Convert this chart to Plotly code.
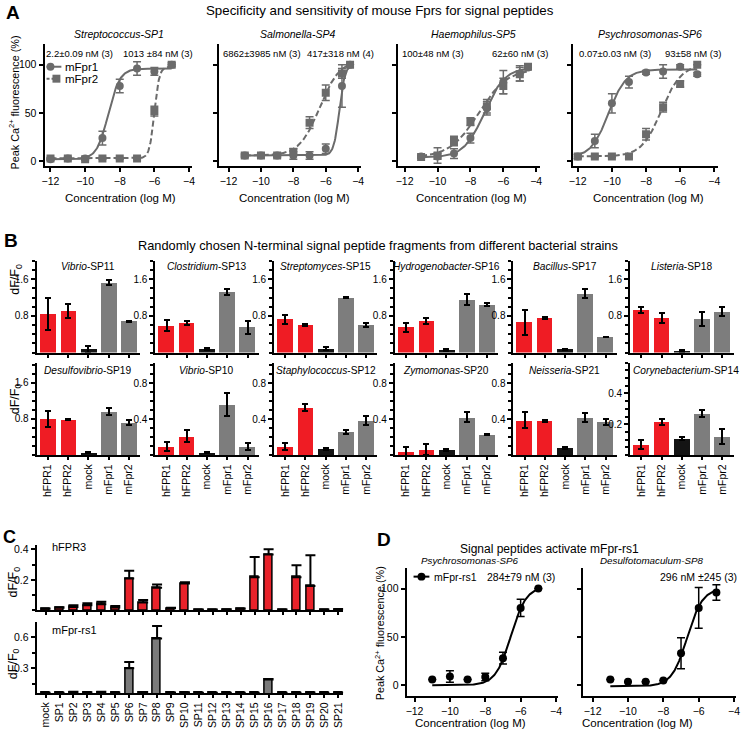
import numpy as np
import plotly.graph_objects as go

W, H = 745, 731
FONT = "Liberation Sans, Arial, sans-serif"
TFONT = "Liberation Sans, Arial, sans-serif"
GRAY_A = "#6b6b6b"
RED = "#ef1c24"
GRAY_B = "#7d7d7d"
MOCK = "#141414"

# ---------------- Panel A data ----------------
A_titles = ["Streptococcus-SP1", "Salmonella-SP4", "Haemophilus-SP5", "Psychrosomonas-SP6"]
A_text_fpr1 = ["2.2±0.09 nM (3)", "6862±3985 nM (3)", "100±48 nM (3)", "0.07±0.03 nM (3)"]
A_text_fpr2 = ["1013 ±84 nM (3)", "417±318 nM (4)", "62±60 nM (3)", "93±58 nM (3)"]
A_conc = [
    [-12, -11, -10, -9, -8, -7, -6, -5],
    [-11, -10, -9, -8, -7, -6, -5, -4.5],
    [-11, -10, -9, -8, -7, -6, -5, -4.5],
    [-12, -11, -10, -9, -8, -7, -6, -5],
]
A_mfpr1 = [
    [2, 3, 3, 24, 78, 96, 93, 100],
    [6, 6, 6, 6, 6, 13, 78, 100],
    [5, 5, 8, 24, 55, 82, 91, 97],
    [5, 21, 60, 82, 92, 93, 98, 90],
]
A_mfpr1_err = [
    [1, 1, 1, 7, 7, 7, 4, 0],
    [1, 1, 1, 4, 4, 5, 22, 0],
    [1, 3, 5, 5, 7, 12, 8, 0],
    [2, 7, 10, 6, 2, 7, 2, 2],
]
A_mfpr2 = [
    [3, 3, 2, 3, 3, 3, 52, 100],
    [6, 6, 6, 10, 40, 71, 91, 100],
    [4.5, 6, 21, 41, 57, 78, 90, 98],
    [5, 5, 5, 5, 28, 56, 80, 100],
]
A_mfpr2_err = [
    [1, 1, 1, 1, 1, 1, 5, 2],
    [2, 2, 2, 3, 6, 8, 5, 0],
    [1, 8, 5, 4, 7, 8, 7, 0],
    [2, 1, 1, 2, 6, 5, 3, 0],
]
# fitted curves: (bottom, top, logEC50, hill)
A_fit_mfpr1 = [(2, 96, -8.66, 1.3), (6, 100, -5.16, 2.5), (4, 97, -7.15, 0.7), (4, 95, -10.2, 0.85)]
A_fit_mfpr2 = [(3, 98, -6.0, 3.0), (6, 105, -6.38, 0.7), (4, 96, -7.5, 0.5), (5, 100, -7.1, 0.75)]

# ---------------- Panel B data ----------------
B_genus = ["Vibrio", "Clostridium", "Streptomyces", "Hydrogenobacter", "Bacillus", "Listeria",
           "Desulfovibrio", "Vibrio", "Staphylococcus", "Zymomonas", "Neisseria", "Corynebacterium"]
B_peptide = ["SP11", "SP13", "SP15", "SP16", "SP17", "SP18",
             "SP19", "SP10", "SP12", "SP20", "SP21", "SP14"]
B_receptors = ["hFPR1", "hFPR2", "mock", "mFpr1", "mFpr2"]
B_values = [
    [0.85, 0.91, 0.07, 1.53, 0.68],
    [0.58, 0.64, 0.07, 1.32, 0.55],
    [0.73, 0.60, 0.09, 1.20, 0.60],
    [0.55, 0.69, 0.06, 1.15, 1.05],
    [0.66, 0.75, 0.07, 1.29, 0.34],
    [0.93, 0.75, 0.04, 0.73, 0.89],
    [0.80, 0.79, 0.05, 0.96, 0.72],
    [0.10, 0.21, 0.03, 0.56, 0.10],
    [0.10, 0.53, 0.07, 0.26, 0.38],
    [0.04, 0.06, 0.06, 0.42, 0.23],
    [0.39, 0.38, 0.08, 0.42, 0.37],
    [0.07, 0.215, 0.11, 0.27, 0.12],
]
B_errors = [
    [0.35, 0.16, 0.08, 0.05, 0.01],
    [0.12, 0.04, 0.02, 0.06, 0.14],
    [0.10, 0.03, 0.03, 0.01, 0.05],
    [0.10, 0.07, 0.02, 0.12, 0.04],
    [0.27, 0.02, 0.01, 0.10, 0.01],
    [0.06, 0.11, 0.02, 0.15, 0.10],
    [0.18, 0.02, 0.01, 0.08, 0.05],
    [0.05, 0.065, 0.01, 0.13, 0.04],
    [0.04, 0.04, 0.01, 0.02, 0.05],
    [0.05, 0.06, 0.01, 0.055, 0.01],
    [0.09, 0.01, 0.01, 0.05, 0.03],
    [0.03, 0.02, 0.01, 0.02, 0.05],
]
B_ymax = [2.0] * 6 + [2.05, 1.03, 1.03, 1.03, 1.03, 0.6]
B_tickstep = [0.8] * 7 + [0.4] * 4 + [0.2]
B_colors = [RED, RED, MOCK, GRAY_B, GRAY_B]

# ---------------- Panel C data ----------------
C_peptides = ["mock"] + ["SP%d" % i for i in range(1, 22)]
C_hfpr3 = [0.011, 0.018, 0.023, 0.034, 0.041, 0.020, 0.210, 0.052, 0.148, 0.014, 0.177,
           0.005, 0.006, 0.007, 0.011, 0.218, 0.367, 0.005, 0.218, 0.160, 0.005, 0.008]
C_hfpr3_err = [0.002, 0.004, 0.011, 0.014, 0.016, 0.010, 0.050, 0.016, 0.022, 0.004, 0.007,
               0.001, 0.001, 0.001, 0.002, 0.132, 0.033, 0.001, 0.078, 0.202, 0.001, 0.001]
C_rs1 = [0.062, 0.062, 0.068, 0.064, 0.068, 0.063, 0.300, 0.066, 0.590, 0.063, 0.064,
         0.061, 0.061, 0.062, 0.061, 0.061, 0.190, 0.061, 0.061, 0.063, 0.061, 0.061]
C_rs1_err = [0.001, 0.001, 0.004, 0.002, 0.004, 0.001, 0.060, 0.004, 0.120, 0.001, 0.002,
             0.0, 0.0, 0.0, 0.0, 0.0, 0.005, 0.0, 0.0, 0.002, 0.0, 0.0]

# ---------------- Panel D data ----------------
D_titles = ["Psychrosomonas-SP6", "Desulfotomaculum-SP8"]
D_text = ["284±79 nM (3)", "296 nM ±245 (3)"]
D_conc = [-11, -10, -9, -8, -7, -6, -5]
D_rs1 = [[6, 9, 6, 8.5, 28, 80, 100], [6, 3.5, 3.5, 5, 33, 80, 96]]
D_rs1_err = [[0, 6, 0, 4, 6, 9, 0], [0, 0, 0, 0, 16, 21, 8]]
D_fit = [(0, 102, -6.55, 1.0), (-1, 100, -6.65, 1.0)]


def hill(x, b, t, ec, h):
    return b + (t - b) / (1 + 10 ** ((ec - x) * h))


fig = go.Figure()
layout = {}
annotations = []
shapes = []
naxes = [0]
TICK = 10.5


def base_axis():
    return dict(showline=True, linecolor="black", linewidth=2, ticks="outside", ticklen=4,
                tickwidth=1.5, tickcolor="black", showgrid=False, zeroline=False,
                tickfont=dict(family=FONT, size=TICK, color="black"), fixedrange=True)


def add_axes(x0, x1, y0, y1, xr, yr, xkw=None, ykw=None):
    naxes[0] += 1
    n = naxes[0]
    sfx = "" if n == 1 else str(n)
    xa = base_axis()
    xa.update(domain=[x0 / W, x1 / W], range=xr, anchor="y" + sfx)
    ya = base_axis()
    ya.update(domain=[1 - y1 / H, 1 - y0 / H], range=yr, anchor="x" + sfx)
    if xkw:
        xa.update(xkw)
    if ykw:
        ya.update(ykw)
    layout["xaxis" + sfx] = xa
    layout["yaxis" + sfx] = ya
    return "x" + sfx, "y" + sfx


def txt(px, py, s, size=12, family=FONT, xanchor="center", angle=0):
    annotations.append(dict(x=px / W, y=1 - py / H, xref="paper", yref="paper", text=s,
                            showarrow=False, xanchor=xanchor, yanchor="middle", textangle=angle,
                            font=dict(family=family, size=size, color="black")))


def px2p(x, y):
    return x / W, 1 - y / H


# ---------------- Panel A ----------------
A_geom = [  # y-axis x, px of -12, px of -4
    (41, 47, 187), (217, 227, 358), (398, 405, 538), (575, 580, 718)
]
A_title_x = [116, 297, 475, 653]
A_t1_x = [76, 261, 434, 618]
A_t2_x = [156, 340, 522, 696]
A_xt_x = [118, 294, 473, 652]
for i in range(4):
    left, p12, p4 = A_geom[i]
    ppu = (p4 - p12) / 8.0
    xr = [-12 - (p12 - left) / ppu, -3.8]
    right = p4 + 0.2 * ppu
    xr_, yr_ = add_axes(left, right, 42, 165, xr, [-5.2, 121.6],
                        xkw=dict(tickvals=[-12, -10, -8, -6, -4]),
                        ykw=dict(tickvals=[0, 50, 100], showticklabels=(i == 0)))
    xc1 = np.linspace(A_conc[i][0], A_conc[i][-1], 200)
    fig.add_trace(go.Scatter(x=xc1, y=hill(xc1, *A_fit_mfpr1[i]), mode="lines",
                             line=dict(color=GRAY_A, width=2), xaxis=xr_, yaxis=yr_,
                             showlegend=False, hoverinfo="skip"))
    fig.add_trace(go.Scatter(x=xc1, y=hill(xc1, *A_fit_mfpr2[i]), mode="lines",
                             line=dict(color=GRAY_A, width=2, dash="6px,3px"), xaxis=xr_, yaxis=yr_,
                             showlegend=False, hoverinfo="skip"))
    fig.add_trace(go.Scatter(x=A_conc[i], y=A_mfpr2[i], mode="markers",
                             marker=dict(symbol="square", size=8, color=GRAY_A),
                             error_y=dict(type="data", array=A_mfpr2_err[i], color=GRAY_A,
                                          thickness=1.5, width=4),
                             xaxis=xr_, yaxis=yr_, showlegend=False))
    fig.add_trace(go.Scatter(x=A_conc[i], y=A_mfpr1[i], mode="markers",
                             marker=dict(symbol="circle", size=8, color=GRAY_A),
                             error_y=dict(type="data", array=A_mfpr1_err[i], color=GRAY_A,
                                          thickness=1.5, width=4),
                             xaxis=xr_, yaxis=yr_, showlegend=False))
    txt(A_title_x[i], 32, "<i>" + A_titles[i] + "</i>", size=10.5)
    txt(A_t1_x[i], 52, A_text_fpr1[i], size=9.5)
    txt(A_t2_x[i], 52, A_text_fpr2[i], size=9.5)
    txt(A_xt_x[i], 197, "Concentration (log M)", size=11.5)

txt(10, 101, "Peak Ca<sup>2+</sup> fluorescence (%)", size=10.8, angle=-90)
txt(380, 9, "Specificity and sensitivity of mouse Fprs for signal peptides", size=13.3, family=TFONT)
txt(9, 11, "<b>A</b>", size=19, family=TFONT)

for (ly, sym, dash, name) in [(65, "circle", "solid", "mFpr1"), (77, "square", "dash", "mFpr2")]:
    a = px2p(43, ly)
    b = px2p(58, ly)
    shapes.append(dict(type="line", xref="paper", yref="paper", x0=a[0], y0=a[1], x1=b[0], y1=b[1],
                       line=dict(color=GRAY_A, width=2, dash="3px,2px" if dash == "dash" else "solid")))
    cx = 47 if sym == "circle" else 53
    c0 = px2p(cx - 4, ly + 4)
    c1 = px2p(cx + 4, ly - 4)
    shapes.append(dict(type="circle" if sym == "circle" else "rect", xref="paper", yref="paper",
                       x0=c0[0], y0=c0[1], x1=c1[0], y1=c1[1], fillcolor=GRAY_A,
                       line=dict(color=GRAY_A, width=0)))
    txt(60, ly, name, size=11.5, xanchor="left")

# ---------------- Panel B ----------------
B_left = [33, 153, 273, 395, 515, 633]
for k in range(12):
    row = k // 6
    col = k % 6
    left = B_left[col]
    top, bot = (260, 352) if row == 0 else (362, 455)
    step = B_tickstep[k]
    ticks = [step * j for j in range(1, 3) if step * j <= B_ymax[k] + 1e-9]
    xr_, yr_ = add_axes(left, left + 104.5, top, bot, [-0.55, 4.55], [0, B_ymax[k]],
                        xkw=dict(type="category", ticklen=3, tickangle=-90,
                                 tickmode="array", tickvals=B_receptors, ticktext=B_receptors,
                                 tickfont=dict(family=FONT, size=10.5, color="black"),
                                 showticklabels=(row == 1)),
                        ykw=dict(tickvals=ticks, ticktext=["%g" % t for t in ticks],
                                 tickfont=dict(family=FONT, size=10, color="black"),
                                 minor=dict(tick0=0, dtick=step / 4, ticks="outside", ticklen=3,
                                            tickwidth=1.5, tickcolor="black")))
    fig.add_trace(go.Bar(x=B_receptors, y=B_values[k], width=0.78,
                         marker=dict(color=B_colors, line=dict(width=0)),
                         error_y=dict(type="data", array=B_errors[k], color="black",
                                      thickness=2, width=3),
                         xaxis=xr_, yaxis=yr_, showlegend=False))
    ty = 266 if row == 0 else 370
    cx = left + 52 if k != 11 else 689
    txt(cx, ty, "<i>" + B_genus[k] + "</i>-" + B_peptide[k], size=10.2)

txt(12, 278, "dF/F<sub>0</sub>", size=12.5, angle=-90)
txt(12, 398, "dF/F<sub>0</sub>", size=12.5, angle=-90)
txt(378, 245, "Randomly chosen N-terminal signal peptide fragments from different bacterial strains",
    size=12.8, family=TFONT)
txt(7, 239, "<b>B</b>", size=19, family=TFONT)

# ---------------- Panel C ----------------
nC = len(C_peptides)
for (vals, errs, color, top, bot, yr, tv, mstep, label, ly, ty) in [
        (C_hfpr3, C_hfpr3_err, "#e8222a", 545, 611, [0, 0.43], [0.2, 0.4], 0.1, "hFPR3", 547, 582),
        (C_rs1, C_rs1_err, "#7a7a7a", 623, 694, [0.058, 0.745], [0.3, 0.6], 0.15, "mFpr-rs1", 631, 664)]:
    xr_, yr_ = add_axes(33, 343, top, bot, [-0.64, nC - 0.64], yr,
                        xkw=dict(type="category", ticklen=3, tickangle=-90,
                                 tickmode="array", tickvals=C_peptides, ticktext=C_peptides,
                                 showticklabels=(label != "hFPR3"),
                                 tickfont=dict(family=FONT, size=10.5, color="black")),
                        ykw=dict(tickvals=tv, ticktext=["%g" % t for t in tv],
                                 minor=dict(tick0=0, dtick=mstep, ticks="outside", ticklen=3,
                                            tickwidth=1.5, tickcolor="black")))
    fig.add_trace(go.Bar(x=C_peptides, y=vals, width=0.58,
                         marker=dict(color=color, line=dict(color="black", width=1.5)),
                         error_y=dict(type="data", symmetric=False, array=errs,
                                      arrayminus=[0] * nC, color="black", thickness=2, width=5),
                         xaxis=xr_, yaxis=yr_, showlegend=False))
    txt(46, ly, label, size=11, xanchor="left")
    txt(10, ty, "dF/F<sub>0</sub>", size=12.5, angle=-90)
txt(6, 537, "<b>C</b>", size=18, family=TFONT)

# ---------------- Panel D ----------------
D_geom = [(407, 415, 558), (585, 595, 738)]
D_title_x = [471, 655]
D_xt_x = [472, 640]
for i in range(2):
    left, p12, p4 = D_geom[i]
    ppu = (p4 - p12) / 8.0
    xr = [-12 - (p12 - left) / ppu, -3.9]
    right = p4 + 0.1 * ppu
    xr_, yr_ = add_axes(left, right, 568, 697, xr, [-11.3, 121.6],
                        xkw=dict(tickvals=[-12, -10, -8, -6, -4]),
                        ykw=dict(tickvals=[0, 50, 100], showticklabels=(i == 0)))
    xc = np.linspace(D_conc[0], D_conc[-1], 200)
    fig.add_trace(go.Scatter(x=xc, y=hill(xc, *D_fit[i]), mode="lines",
                             line=dict(color="black", width=2), xaxis=xr_, yaxis=yr_,
                             showlegend=False, hoverinfo="skip"))
    fig.add_trace(go.Scatter(x=D_conc, y=D_rs1[i], mode="markers",
                             marker=dict(symbol="circle", size=8, color="black"),
                             error_y=dict(type="data", array=D_rs1_err[i], color="black",
                                          thickness=1.5, width=4),
                             xaxis=xr_, yaxis=yr_, showlegend=False))
    txt(D_title_x[i], 561, "<i>" + D_titles[i] + "</i>", size=9.8)
    txt(D_xt_x[i], 724, "Concentration (log M)", size=11.5)

txt(523, 577, D_text[0], size=10.5)
txt(743, 577, D_text[1], size=10.5, xanchor="right")
txt(551, 549, "Signal peptides activate mFpr-rs1", size=12, family=TFONT)
txt(380, 634, "Peak Ca<sup>2+</sup> fluorescence (%)", size=10.8, angle=-90)
txt(384, 540, "<b>D</b>", size=19, family=TFONT)
a = px2p(414, 577)
b = px2p(430, 577)
shapes.append(dict(type="line", xref="paper", yref="paper", x0=a[0], y0=a[1], x1=b[0], y1=b[1],
                   line=dict(color="black", width=2)))
c0 = px2p(418, 581)
c1 = px2p(426, 573)
shapes.append(dict(type="circle", xref="paper", yref="paper", x0=c0[0], y0=c0[1], x1=c1[0], y1=c1[1],
                   fillcolor="black", line=dict(color="black", width=0)))
txt(433, 577, "mFpr-rs1", size=10.5, xanchor="left")

layout.update(width=W, height=H, autosize=False, margin=dict(l=0, r=0, t=0, b=0, pad=0),
              paper_bgcolor="white", plot_bgcolor="white", showlegend=False,
              annotations=annotations, shapes=shapes, bargap=0,
              font=dict(family=FONT, size=12, color="black"))
fig.update_layout(layout)
fig.write_html("out.html", config={"displayModeBar": False},
               post_script="document.body.style.margin='0';document.body.style.overflow='hidden';")
